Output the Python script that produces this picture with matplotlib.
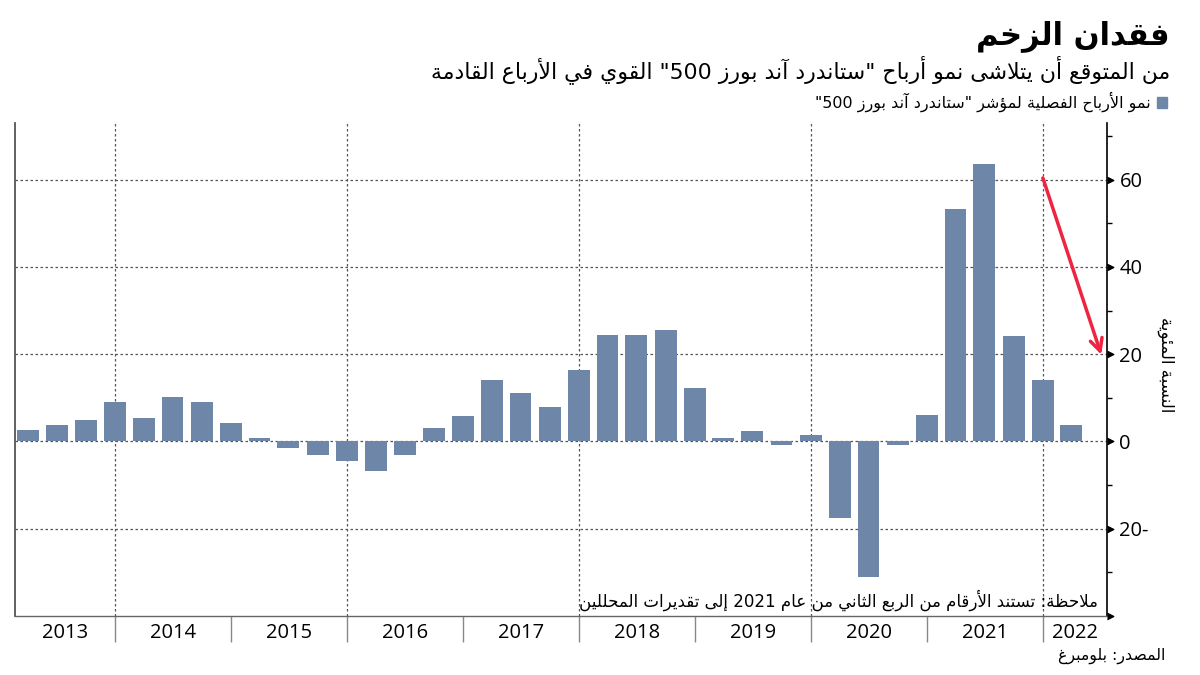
import re
import numpy as np
import pandas as pd
import matplotlib
matplotlib.use("Agg")
import matplotlib.pyplot as plt
import matplotlib.dates as mdates
from matplotlib.patches import Rectangle

# ---------------- data ----------------
quarters = pd.period_range("2013Q1", "2022Q1", freq="Q")
growth = [2.7, 3.8, 4.9, 9.0, 5.4, 10.1, 9.0, 4.3, 0.7, -1.5, -3.1, -4.5, -6.7,
          -3.1, 3.1, 5.9, 14.1, 11.0, 7.8, 16.3, 24.4, 24.4, 25.5, 12.3, 0.85,
          2.3, -0.85, 1.4, -17.5, -31.0, -0.9, 6.0, 53.4, 63.6, 24.1, 14.2, 3.8]
years = list(range(2013, 2023))
yticks_major = [-40, -20, 0, 20, 40, 60]
yticks_minor = [-30, -10, 10, 30, 50, 70]
grid_y = [-20, 0, 20, 40, 60]
grid_years = [2014, 2016, 2018, 2020, 2022]
arrow_start = ("2021-12-31", 60.4)
arrow_end = ("2022-07-03", 19.9)

title = "فقدان الزخم"
subtitle = 'من المتوقع أن يتلاشى نمو أرباح "ستاندرد آند بورز 500" القوي في الأرباع القادمة'
legend_label = 'نمو الأرباح الفصلية لمؤشر "ستاندرد آند بورز 500"'
ylabel = "النسبة المئوية"
note = "ملاحظة: تستند الأرقام من الربع الثاني من عام 2021 إلى تقديرات المحللين"
source = "المصدر: بلومبرغ"

# ---------------- minimal Arabic shaping + RTL ordering ----------------
DUAL = {0x0626: 0xFE89, 0x0628: 0xFE8F, 0x062A: 0xFE95, 0x062B: 0xFE99,
        0x062C: 0xFE9D, 0x062D: 0xFEA1, 0x062E: 0xFEA5, 0x0633: 0xFEB1,
        0x0634: 0xFEB5, 0x0635: 0xFEB9, 0x0636: 0xFEBD, 0x0637: 0xFEC1,
        0x0638: 0xFEC5, 0x0639: 0xFEC9, 0x063A: 0xFECD, 0x0641: 0xFED1,
        0x0642: 0xFED5, 0x0643: 0xFED9, 0x0644: 0xFEDD, 0x0645: 0xFEE1,
        0x0646: 0xFEE5, 0x0647: 0xFEE9, 0x064A: 0xFEF1}
RIGHT = {0x0622: 0xFE81, 0x0623: 0xFE83, 0x0624: 0xFE85, 0x0625: 0xFE87,
         0x0627: 0xFE8D, 0x0629: 0xFE93, 0x062F: 0xFEA9, 0x0630: 0xFEAB,
         0x0631: 0xFEAD, 0x0632: 0xFEAF, 0x0648: 0xFEED, 0x0649: 0xFEEF}
LAMALEF = {0x0622: 0xFEF5, 0x0623: 0xFEF7, 0x0625: 0xFEF9, 0x0627: 0xFEFB}


def shape(text):
    cps = [ord(c) for c in text]
    items = []
    i = 0
    while i < len(cps):
        if cps[i] == 0x0644 and i + 1 < len(cps) and cps[i + 1] in LAMALEF:
            items.append(("LA", cps[i + 1]))
            i += 2
        else:
            items.append(("C", cps[i]))
            i += 1

    def joins_next(it):
        return it[0] == "C" and it[1] in DUAL

    def is_ar(it):
        return it[0] == "LA" or it[1] in DUAL or it[1] in RIGHT

    out = []
    for j, it in enumerate(items):
        prev = items[j - 1] if j > 0 else None
        nxt = items[j + 1] if j + 1 < len(items) else None
        jp = prev is not None and joins_next(prev) and is_ar(it)
        jn = nxt is not None and joins_next(it) and is_ar(nxt)
        kind, c = it
        if kind == "LA":
            out.append(chr(LAMALEF[c] + (1 if jp else 0)))
        elif c in DUAL:
            b = DUAL[c]
            out.append(chr(b + 3 if (jp and jn) else b + 1 if jp else b + 2 if jn else b))
        elif c in RIGHT:
            out.append(chr(RIGHT[c] + (1 if jp else 0)))
        else:
            out.append(chr(c))
    return "".join(out)


def rtl(text):
    s = shape(text)
    tokens = re.findall(r"\d+|\D", s)
    return "".join(reversed(tokens))


AR = ["DejaVu Sans"]
NUM = ["Open Sans", "DejaVu Sans"]
BAR = "#6e87a9"
GRID = "#555555"

# ---------------- figure ----------------
fig = plt.figure(figsize=(12, 6.75), dpi=100)
W, H = 1200, 675
ax = fig.add_axes([15 / W, 59 / H, 1092 / W, 493 / H])

x = quarters.end_time.normalize()
ax.bar(x, growth, width=69, color=BAR, align="center", zorder=3)

ax.set_xlim(mdates.date2num(pd.Timestamp("2013-02-19")),
            mdates.date2num(pd.Timestamp("2022-07-21")))
ax.set_ylim(-40, 73)

# grid
for g in grid_y:
    ax.axhline(g, color=GRID, lw=0.9, ls=(0, (2, 2)), zorder=1)
for yr in grid_years:
    ax.axvline(pd.Timestamp(f"{yr}-01-01"), color=GRID, lw=0.9, ls=(0, (2, 2)), zorder=1)

# spines
ax.spines["top"].set_visible(False)
ax.spines["left"].set_color("#555555")
ax.spines["left"].set_linewidth(1.3)
ax.spines["bottom"].set_color("#666666")
ax.spines["bottom"].set_linewidth(1.0)
ax.spines["right"].set_color("black")
ax.spines["right"].set_linewidth(1.2)

# y axis on right
ax.yaxis.tick_right()
ax.set_yticks(yticks_major)
ax.set_yticks(yticks_minor, minor=True)
ax.set_yticklabels(["" if v == -40 else (f"{-v}-" if v < 0 else f"{v}") for v in yticks_major],
                   fontsize=14.5, family=NUM)
ax.tick_params(axis="y", which="major", length=0, pad=9)
ax.tick_params(axis="y", which="minor", length=3.5, width=1, color="black", direction="out")
tri = [(0, -0.5), (1, 0), (0, 0.5)]
ax.plot(np.ones(len(yticks_major)), yticks_major, transform=ax.get_yaxis_transform(),
        ls="none", marker=tri, markersize=9, color="black", clip_on=False, zorder=5)

# x axis: year separators and centred year labels
xmin, xmax = ax.get_xlim()
ax.xaxis.set_minor_locator(mdates.YearLocator())
ax.tick_params(axis="x", which="minor", length=19, width=1, color="#888888", direction="out")
label_pos = []
for yr in years:
    a = max(mdates.date2num(pd.Timestamp(f"{yr}-01-01")), xmin)
    b = min(mdates.date2num(pd.Timestamp(f"{yr + 1}-01-01")), xmax)
    label_pos.append((a + b) / 2)
ax.set_xticks(label_pos)
ax.set_xticklabels([str(y) for y in years], fontsize=14.5, family=NUM)
ax.tick_params(axis="x", which="major", length=0, pad=5)

# arrow
ax.annotate("", xy=(pd.Timestamp(arrow_end[0]), arrow_end[1]),
            xytext=(pd.Timestamp(arrow_start[0]), arrow_start[1]),
            arrowprops=dict(arrowstyle="->", color="#ef2440", lw=2.5,
                            mutation_scale=22, shrinkA=0, shrinkB=0),
            zorder=6)

# texts
fig.text(1170 / W, 1 - 36 / H, rtl(title), ha="right", va="center",
         fontsize=22, fontweight="bold", family=AR)
fig.text(1170 / W, 1 - 70 / H, rtl(subtitle), ha="right", va="center",
         fontsize=15.8, family=AR)
fig.add_artist(Rectangle((1157 / W, 1 - 108 / H), 10 / W, 11 / H,
                         transform=fig.transFigure, color=BAR))
fig.text(1151 / W, 1 - 102 / H, rtl(legend_label), ha="right", va="center",
         fontsize=11.5, family=AR)
fig.text(1166 / W, 1 - 365 / H, rtl(ylabel), ha="center", va="center",
         rotation=270, fontsize=12, family=AR)
fig.text(1098 / W, 1 - 600 / H, rtl(note), ha="right", va="center",
         fontsize=12, family=AR)
fig.text(1165 / W, 1 - 656 / H, rtl(source), ha="right", va="center",
         fontsize=11.3, family=AR)

fig.savefig("out.png", dpi=100)
